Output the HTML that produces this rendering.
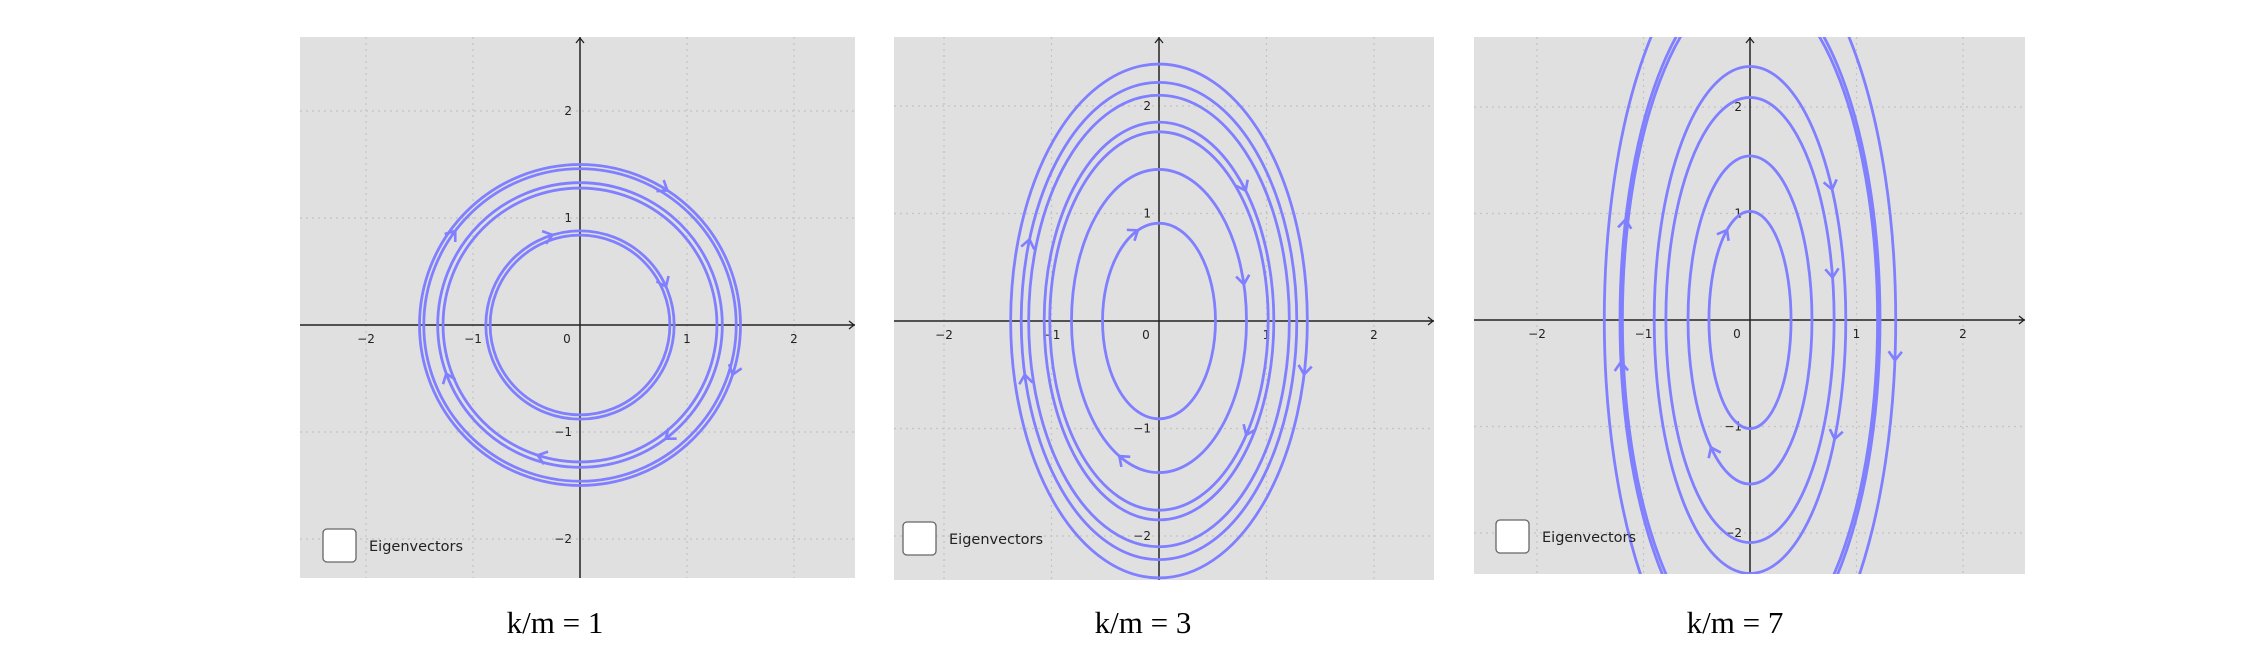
<!DOCTYPE html>
<html><head><meta charset="utf-8"><style>
html,body{margin:0;padding:0;background:#fff;width:2262px;height:665px;overflow:hidden;}
body{position:relative;}
svg{position:absolute;left:0;top:0;display:block;}
</style></head><body>
<svg id="fig" width="2262" height="665" xmlns="http://www.w3.org/2000/svg"></svg>
<script>
// panel 1: k/m = 1 (circles), radii
const p1Ry = [1.50, 1.46, 1.33, 1.28, 0.88, 0.84];
const p1Ratio = 1;
const p1ArrowCurve = [0, 1, 4, 4, 2, 0, 2, 3];
const p1ArrowT = [57, 143, 107, 24, 200, -18, -53, 252];
// panel 2: k/m = 3
const p2Ry = [2.39, 2.22, 2.10, 1.85, 1.76, 1.41, 0.91];
const p2Ratio = 3;
const p2ArrowCurve = [1, 1, 3, 5, 4, 0, 6, 5];
const p2ArrowT = [160, 193, 41, 14, -37, -12, 112, 243];
// panel 3: k/m = 7
const p3Ry = [3.62, 3.23, 3.17, 2.38, 2.09, 1.54, 1.02];
const p3Ratio = 7;
const p3ArrowCurve = [3, 4, 3, 0, 1, 1, 6, 5];
const p3ArrowT = [31, 11, -28, -6, 163, 187, 124, 231];
// axis ticks
const xTicks = [-2, -1, 0, 1, 2];
const yTicks = [-2, -1, 1, 2];
const titles = ["k/m = 1", "k/m = 3", "k/m = 7"];

const NS = "http://www.w3.org/2000/svg";
const svg = document.getElementById('fig');
function mk(tag, attrs, parent){
  const e = document.createElementNS(NS, tag);
  for (const k in attrs) e.setAttribute(k, attrs[k]);
  (parent||svg).appendChild(e);
  return e;
}
const panels = [
  {x0:300,x1:855,y0:37,y1:578,ox:580,oy:325,u:107,ry:p1Ry,ratio:p1Ratio,ac:p1ArrowCurve,at:p1ArrowT,cb:[323,529],tx:555},
  {x0:894,x1:1434,y0:37,y1:580,ox:1159,oy:321,u:107.5,ry:p2Ry,ratio:p2Ratio,ac:p2ArrowCurve,at:p2ArrowT,cb:[903,522],tx:1143},
  {x0:1474,x1:2025,y0:37,y1:574,ox:1750,oy:320,u:106.5,ry:p3Ry,ratio:p3Ratio,ac:p3ArrowCurve,at:p3ArrowT,cb:[1496,520],tx:1735}
];
panels.forEach((p, i) => {
  const g = mk('g', {});
  
  
  const cid = 'clip' + i;
  const cp = mk('clipPath', {id: cid}, g);
  mk('rect', {x:p.x0, y:p.y0, width:p.x1-p.x0, height:p.y1-p.y0}, cp);
  const bg = mk('rect', {x:p.x0, y:p.y0, width:p.x1-p.x0, height:p.y1-p.y0, fill:'#e0e0e0'}, g);
  
  
  const X = v => p.ox + v*p.u, Y = v => p.oy - v*p.u;
  for (let v=-3; v<=3; v++){
    if (v===0) continue;
    if (X(v)>p.x0 && X(v)<p.x1){
      const l = mk('line', {x1:X(v), x2:X(v), y1:p.y0, y2:p.y1, stroke:'#c4c4c4', 'stroke-width':1.2, 'stroke-dasharray':'2,4'}, g);
      
      
    }
    if (Y(v)>p.y0 && Y(v)<p.y1){
      const l = mk('line', {x1:p.x0, x2:p.x1, y1:Y(v), y2:Y(v), stroke:'#c4c4c4', 'stroke-width':1.2, 'stroke-dasharray':'2,4'}, g);
      
      
    }
  }
  const ax = mk('line', {x1:p.x0, x2:p.x1, y1:p.oy, y2:p.oy, stroke:'#222', 'stroke-width':1.5}, g);
  
  
  const ay = mk('line', {x1:p.ox, x2:p.ox, y1:p.y0, y2:p.y1, stroke:'#222', 'stroke-width':1.5}, g);
  
  
  mk('path', {d:`M${p.ox-4},${p.y0+6} L${p.ox},${p.y0+1} L${p.ox+4},${p.y0+6}`, fill:'none', stroke:'#222', 'stroke-width':1.3}, g);
  mk('path', {d:`M${p.x1-6},${p.oy-4} L${p.x1-1},${p.oy} L${p.x1-6},${p.oy+4}`, fill:'none', stroke:'#222', 'stroke-width':1.3}, g);
  xTicks.forEach(v => {
    const t = mk('text', {x: v===0 ? X(v)-13 : X(v), y:p.oy+18, 'font-family':'DejaVu Sans, Liberation Sans, sans-serif', 'font-size':12, fill:'#222', 'text-anchor':'middle'}, g);
    t.textContent = v<0 ? '\u2212'+(-v) : String(v);
    
    
  });
  yTicks.forEach(v => {
    const t = mk('text', {x:p.ox-8, y:Y(v)+4, 'font-family':'DejaVu Sans, Liberation Sans, sans-serif', 'font-size':12, fill:'#222', 'text-anchor':'end'}, g);
    t.textContent = v<0 ? '\u2212'+(-v) : String(v);
    
    
  });
  const cg = mk('g', {'clip-path':`url(#${cid})`}, g);
  const s = Math.sqrt(p.ratio);
  p.ry.forEach((b, k) => {
    const a = b / s;
    const e = mk('ellipse', {cx:X(0), cy:Y(0), rx:a*p.u, ry:b*p.u, fill:'none', stroke:'#7f7fff', 'stroke-width':2.8}, cg);
    
    
  });
  p.ac.forEach((ci, k) => {
    const b = p.ry[ci], a = b / s;
    const t = p.at[k] * Math.PI / 180;
    const px = X(a*Math.cos(t)), py = Y(b*Math.sin(t));
    let dx = a*Math.sin(t), dy = b*Math.cos(t);
    const n = Math.hypot(dx, dy); dx/=n; dy/=n;
    const L = 11, ang = 0.65;
    const r1x = -dx*Math.cos(ang) + dy*Math.sin(ang), r1y = -dy*Math.cos(ang) - dx*Math.sin(ang);
    const r2x = -dx*Math.cos(ang) - dy*Math.sin(ang), r2y = -dy*Math.cos(ang) + dx*Math.sin(ang);
    const ar = mk('path', {d:`M${px+r1x*L},${py+r1y*L} L${px},${py} L${px+r2x*L},${py+r2y*L}`, fill:'none', stroke:'#7f7fff', 'stroke-width':2.6}, cg);
    
    
  });
  const cb = mk('rect', {x:p.cb[0], y:p.cb[1], width:33, height:33, rx:4, fill:'#fff', stroke:'#666', 'stroke-width':1.3}, g);
  
  
  const lt = mk('text', {x:p.cb[0]+46, y:p.cb[1]+22, 'font-family':'DejaVu Sans, Liberation Sans, sans-serif', 'font-size':14.5, fill:'#222'}, g);
  lt.textContent = 'Eigenvectors';
  
  
  const tt = mk('text', {x:p.tx, y:633, 'font-family':'Liberation Serif, serif', 'font-size':31, fill:'#000', 'text-anchor':'middle'});
  tt.textContent = titles[i];
  
  
});
</script>
</body></html>
